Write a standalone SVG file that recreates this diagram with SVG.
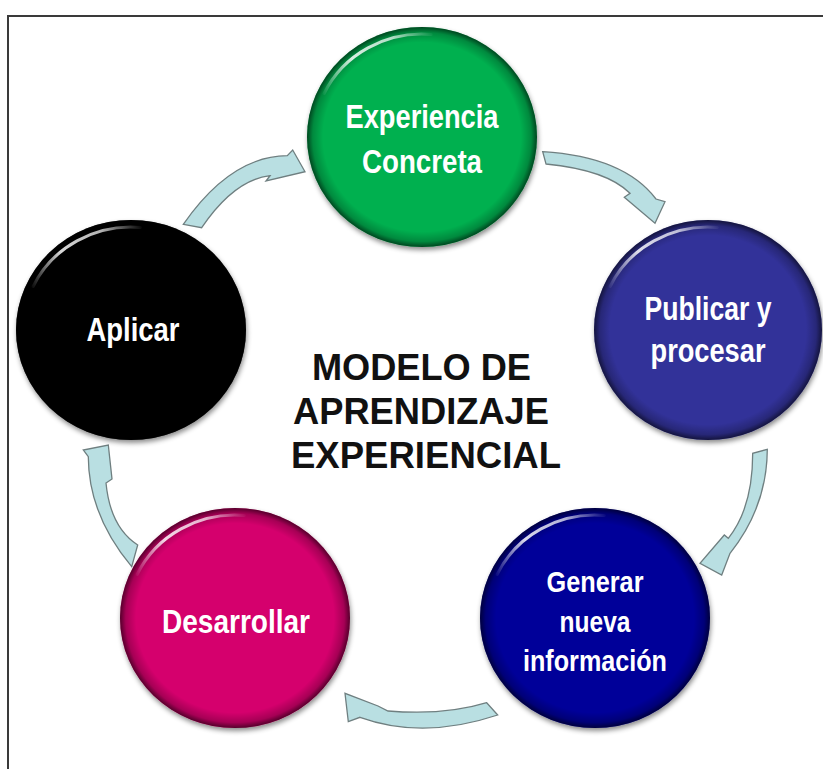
<svg xmlns="http://www.w3.org/2000/svg" width="823" height="769" viewBox="0 0 823 769">
  <style>
    .frame { fill: none; stroke: #3a3a3a; stroke-width: 2; }
    .arrow { fill: #b9dfe2; stroke: #6f7f80; stroke-width: 1.3; stroke-linejoin: miter; }
    .rim { fill: url(#rim); }
    .hl { fill: none; stroke: url(#hlg); stroke-width: 3; stroke-linecap: round; }
    .lbl { fill: #ffffff; font-family: "Liberation Sans Narrow", "Liberation Sans", Arial, sans-serif; font-weight: bold; text-anchor: middle; }
    .title { fill: #111111; font-family: "Liberation Sans", Arial, sans-serif; font-weight: bold; font-size: 36px; text-anchor: middle; }
  </style>
  <defs>
    <radialGradient id="rim" cx="0.5" cy="0.5" r="0.5">
      <stop offset="0" stop-color="#000" stop-opacity="0"/>
      <stop offset="0.86" stop-color="#000" stop-opacity="0"/>
      <stop offset="0.95" stop-color="#000" stop-opacity="0.22"/>
      <stop offset="1" stop-color="#000" stop-opacity="0.6"/>
    </radialGradient>
    <linearGradient id="hlg" gradientUnits="userSpaceOnUse" x1="-100" y1="-40" x2="12" y2="-104">
      <stop offset="0" stop-color="#fff" stop-opacity="0"/>
      <stop offset="0.35" stop-color="#fff" stop-opacity="0.85"/>
      <stop offset="0.7" stop-color="#fff" stop-opacity="0.7"/>
      <stop offset="1" stop-color="#fff" stop-opacity="0"/>
    </linearGradient>
    <filter id="sh" x="-20%" y="-20%" width="140%" height="140%">
      <feDropShadow dx="1" dy="3" stdDeviation="2.5" flood-color="#000" flood-opacity="0.45"/>
    </filter>
    <path id="hlp" d="M-97.9,-43.5 A108,103 0 0 1 9.4,-102.6"/>
  </defs>

  <rect class="frame" x="8" y="16" width="860" height="800"/>

  <g id="connectors">
    <path class="arrow" d="M183.3,224.3 Q230.8,156 287.3,155.7 L292.7,150 L305,171.7 L266,181 L270,175.7 Q234.2,179.9 201.7,227.7 Z"/>
    <path class="arrow" d="M542.7,151.7 Q623.6,156.6 656,199 L665,201.7 L655,223.3 L624.3,197.3 L630,193.3 Q606.8,170 546,164 Z"/>
    <path class="arrow" d="M767.3,449.3 Q767,507 730,553.3 L721.7,575 L700,563.3 L724.3,535 L728.3,538.3 Q752.7,507.8 752.7,453.3 Z"/>
    <path class="arrow" d="M497.7,715 Q423,740 360,717.3 L348.3,721.7 L345,693.3 L378,706 L388,711 Q445,715.6 486.7,702.7 Z"/>
    <path class="arrow" d="M131.7,566.7 Q88.5,514.9 88.3,456.7 L83.3,450 L108.3,445 L112,479 L106,483 Q110.2,527.1 137.7,545 Z"/>
  </g>

  <g id="experiencia" transform="translate(422,137)">
    <ellipse rx="115" ry="110" fill="#00b050" filter="url(#sh)"/>
    <ellipse class="rim" rx="115" ry="110"/>
    <use href="#hlp" class="hl"/>
    <text class="lbl" x="0" y="-9" font-size="33" textLength="153" lengthAdjust="spacingAndGlyphs">Experiencia</text>
    <text class="lbl" x="0" y="36" font-size="33" textLength="120" lengthAdjust="spacingAndGlyphs">Concreta</text>
  </g>

  <g id="publicar" transform="translate(708,330)">
    <ellipse rx="114" ry="110" fill="#333399" filter="url(#sh)"/>
    <ellipse class="rim" rx="114" ry="110"/>
    <use href="#hlp" class="hl"/>
    <text class="lbl" x="0" y="-10" font-size="33" textLength="127" lengthAdjust="spacingAndGlyphs">Publicar y</text>
    <text class="lbl" x="0" y="32" font-size="33" textLength="115" lengthAdjust="spacingAndGlyphs">procesar</text>
  </g>

  <g id="generar" transform="translate(595,618)">
    <ellipse rx="115" ry="110" fill="#000099" filter="url(#sh)"/>
    <ellipse class="rim" rx="115" ry="110"/>
    <use href="#hlp" class="hl"/>
    <text class="lbl" x="0" y="-26" font-size="30" textLength="97" lengthAdjust="spacingAndGlyphs">Generar</text>
    <text class="lbl" x="0" y="14" font-size="30" textLength="71" lengthAdjust="spacingAndGlyphs">nueva</text>
    <text class="lbl" x="0" y="53" font-size="30" textLength="144" lengthAdjust="spacingAndGlyphs">información</text>
  </g>

  <g id="desarrollar" transform="translate(235,618)">
    <ellipse rx="115" ry="110" fill="#d5006d" filter="url(#sh)"/>
    <ellipse class="rim" rx="115" ry="110"/>
    <use href="#hlp" class="hl"/>
    <text class="lbl" x="1" y="15" font-size="33" textLength="148" lengthAdjust="spacingAndGlyphs">Desarrollar</text>
  </g>

  <g id="aplicar" transform="translate(131,330)">
    <ellipse rx="115" ry="110" fill="#000000" filter="url(#sh)"/>
    <ellipse class="rim" rx="115" ry="110"/>
    <use href="#hlp" class="hl"/>
    <text class="lbl" x="2" y="11" font-size="33" textLength="93" lengthAdjust="spacingAndGlyphs">Aplicar</text>
  </g>

  <g id="title">
    <text class="title" x="421.5" y="380" textLength="219" lengthAdjust="spacingAndGlyphs">MODELO DE</text>
    <text class="title" x="421" y="424" textLength="256" lengthAdjust="spacingAndGlyphs">APRENDIZAJE</text>
    <text class="title" x="426" y="468" textLength="270" lengthAdjust="spacingAndGlyphs">EXPERIENCIAL</text>
  </g>
</svg>
